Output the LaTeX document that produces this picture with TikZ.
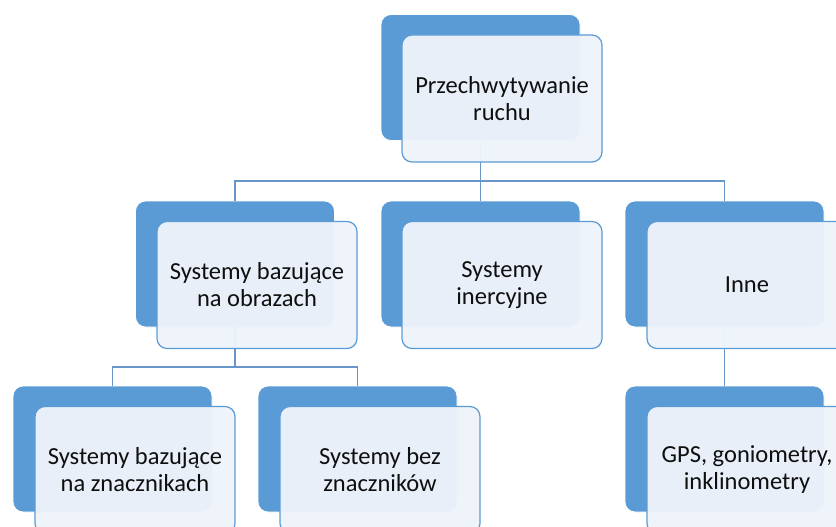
\documentclass[tikz,border=0pt]{standalone}
\usepackage{fontspec}
\setmainfont{Carlito}
\definecolor{officeblue}{RGB}{91,155,213}
\definecolor{frontfill}{RGB}{238,243,250}
\definecolor{linecol}{RGB}{104,150,200}
\definecolor{txt}{RGB}{15,15,15}
\tikzset{
  backbox/.style={rectangle, rounded corners=10pt, minimum width=199pt, minimum height=126pt,
    inner sep=0pt, fill=officeblue, draw=white, line width=0.8pt},
  frontbox/.style={rectangle, rounded corners=10pt, minimum width=200pt, minimum height=127pt,
    inner sep=0pt, fill=frontfill, fill opacity=0.96, text opacity=1, draw=officeblue, line width=1.2pt,
    text=txt, align=center, font=\fontsize{24.5}{27}\selectfont},
  conn/.style={draw=linecol, line width=1.4pt}
}
\begin{document}
\begin{tikzpicture}[x=1pt,y=1pt]
\useasboundingbox (0,0) rectangle (836,-527);
\clip (0,0) rectangle (836,-527);
% back boxes
\node[backbox] (b0) at (480.5,-77.5) {};
\node[backbox] (b1) at (235,-264) {};
\node[backbox] (b2) at (480.5,-264) {};
\node[backbox] (b3) at (724.5,-264) {};
\node[backbox] (b4) at (112.5,-449) {};
\node[backbox] (b5) at (357.5,-449) {};
\node[backbox] (b6) at (724.5,-449) {};
% junctions
\coordinate (j0) at (480.5,-181);
\coordinate (j1) at (235,-367);
% connectors
\draw[conn] (b0.south) -- (j0);
\draw[conn] (j0) -| (b1.north);
\draw[conn] (j0) -- (b2.north);
\draw[conn] (j0) -| (b3.north);
\draw[conn] (b1.south) -- (j1);
\draw[conn] (j1) -| (b4.north);
\draw[conn] (j1) -| (b5.north);
\draw[conn] (b3.south) -- (b6.north);
% front boxes
\node[frontbox] (f0) at (502,-98.5) {Przechwytywanie\\ruchu};
\node[frontbox] (f1) at (257,-285) {Systemy bazujące\\na obrazach};
\node[frontbox] (f2) at (502,-285) {Systemy\\inercyjne};
\node[frontbox] (f3) at (747,-285) {Inne};
\node[frontbox] (f4) at (135,-470) {Systemy bazujące\\na znacznikach};
\node[frontbox] (f5) at (380,-470) {Systemy bez\\znaczników};
\node[frontbox] (f6) at (747,-470) {GPS, goniometry,\\inklinometry};
\end{tikzpicture}
\end{document}
